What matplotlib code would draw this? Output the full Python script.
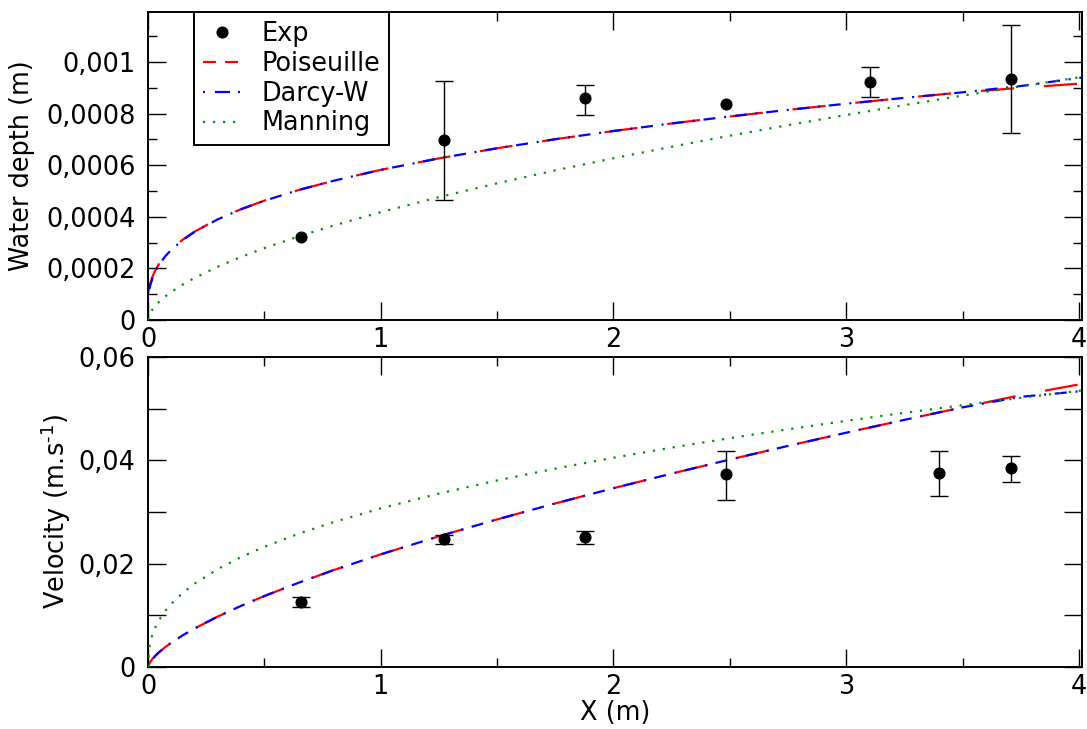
import matplotlib
matplotlib.use("Agg")
import matplotlib.pyplot as plt
from matplotlib.lines import Line2D
from matplotlib.ticker import FixedLocator, MultipleLocator

# ---------------- data ----------------
x_curve = [0, 0.005, 0.01, 0.02, 0.035, 0.05, 0.075, 0.1, 0.15, 0.2, 0.3, 0.4, 0.5,
           0.65, 0.8, 1.0, 1.25, 1.5, 1.75, 2.0, 2.25, 2.5, 2.75, 3.0, 3.25, 3.5,
           3.75, 4.013]

h_poiseuille = [0.000100, 0.0001256, 0.0001436, 0.0001700, 0.0001989, 0.0002211,
                0.0002504, 0.0002741, 0.0003121, 0.0003425, 0.0003912, 0.0004298,
                0.0004626, 0.0005046, 0.0005403, 0.0005820, 0.0006266, 0.0006658,
                0.0007008, 0.0007326, 0.0007619, 0.0007891, 0.0008146, 0.0008385,
                0.0008611, 0.0008826, 0.0009000, 0.0009170]
h_darcy = [0.000080, 0.0001143, 0.0001352, 0.0001643, 0.0001946, 0.0002176,
           0.0002478, 0.0002720, 0.0003106, 0.0003414, 0.0003905, 0.0004293,
           0.0004622, 0.0005046, 0.0005403, 0.0005820, 0.0006266, 0.0006658,
           0.0007008, 0.0007326, 0.0007619, 0.0007891, 0.0008146, 0.0008385,
           0.0008611, 0.0008826, 0.0009070, 0.0009400]
h_manning = [0.0, 0.0000188, 0.0000283, 0.0000424, 0.0000588, 0.0000724, 0.0000919,
             0.0001087, 0.0001378, 0.0001630, 0.0002067, 0.0002446, 0.0002787,
             0.0003249, 0.0003668, 0.0004180, 0.0004763, 0.0005299, 0.0005799,
             0.0006270, 0.0006717, 0.0007145, 0.0007555, 0.0007948, 0.0008329,
             0.0008699, 0.0009057, 0.0009423]

v_poiseuille = [0.0, 0.000637, 0.001012, 0.001607, 0.002333, 0.002959, 0.003876,
                0.004696, 0.006154, 0.007456, 0.009769, 0.011835, 0.013734,
                0.016359, 0.018787, 0.021800, 0.025297, 0.028567, 0.031658,
                0.034605, 0.037433, 0.040156, 0.042793, 0.045346, 0.047834,
                0.050253, 0.052623, 0.054800]
v_darcy = [0.0, 0.000637, 0.001012, 0.001607, 0.002333, 0.002959, 0.003876,
           0.004696, 0.006154, 0.007456, 0.009769, 0.011835, 0.013734,
           0.016359, 0.018787, 0.021800, 0.025297, 0.028567, 0.031658,
           0.034605, 0.037433, 0.040156, 0.042793, 0.045346, 0.047834,
           0.050253, 0.052300, 0.053400]
v_manning = [0.0, 0.003688, 0.004866, 0.006420, 0.008031, 0.009262, 0.010896,
             0.012222, 0.014374, 0.016127, 0.018966, 0.021278, 0.023268,
             0.025840, 0.028078, 0.030700, 0.033567, 0.036106, 0.038400,
             0.040509, 0.042464, 0.044291, 0.046010, 0.047640, 0.049191,
             0.050673, 0.052095, 0.053525]

x_exp_h = [0.657, 1.27, 1.876, 2.485, 3.10, 3.71]
h_exp = [0.000322, 0.000698, 0.000860, 0.000837, 0.000922, 0.000934]
h_err_lo = [0.000322, 0.000465, 0.000795, 0.000837, 0.000864, 0.000725]
h_err_hi = [0.000322, 0.000926, 0.000911, 0.000837, 0.000981, 0.001143]

x_exp_v = [0.657, 1.27, 1.876, 2.485, 3.40, 3.71]
v_exp = [0.0125, 0.0248, 0.0252, 0.0373, 0.0375, 0.0385]
v_err_lo = [0.01154, 0.0238, 0.0238, 0.0323, 0.0331, 0.0358]
v_err_hi = [0.01346, 0.0256, 0.0263, 0.0419, 0.0419, 0.0408]

x_ticks = [0, 1, 2, 3, 4]
x_ticklabels = ["0", "1", "2", "3", "4"]
h_ticks = [0, 0.0002, 0.0004, 0.0006, 0.0008, 0.001]
h_ticklabels = ["0", "0,0002", "0,0004", "0,0006", "0,0008", "0,001"]
v_ticks = [0, 0.01, 0.02, 0.03, 0.04, 0.05, 0.06]
v_ticklabels = ["0", "", "0,02", "", "0,04", "", "0,06"]

labels = ["Exp", "Poiseuille", "Darcy-W", "Manning"]

# ---------------- figure ----------------
FS = 18.4
plt.rcParams["font.family"] = ["DejaVu Sans"]
plt.rcParams["font.size"] = FS

fig = plt.figure(figsize=(10.87, 7.29), dpi=100)
W, H = 1087.0, 729.0
L, R = 148 / W, 1082 / W
ax1 = fig.add_axes([L, 1 - 320 / H, R - L, (320 - 12) / H])
ax2 = fig.add_axes([L, 1 - 667 / H, R - L, (667 - 357) / H])

LW = 1.6
red, blue, green = "#ff0000", "#0000ff", "#009400"
# line styles in the plot area (units of line width)
RED_LS = (0, (14.9, 13.5))
BLUE_LS = (9.45, (5.4, 3.94, 0.9, 3.94))
GREEN_LS = (0, (1.0, 3.5))
# line styles of the legend samples
RED_LEG = (0, (5.85, 4.05))
BLUE_LEG = (0, (0.9, 4.5, 6.75, 3.6))


def draw(ax, yp, yd, ym, xe, ye, lo, hi):
    ax.plot(x_curve, yp, color=red, lw=LW, ls=RED_LS, zorder=2)
    ax.plot(x_curve, yd, color=blue, lw=LW, ls=BLUE_LS, zorder=3)
    ax.plot(x_curve, ym, color=green, lw=LW, ls=GREEN_LS, zorder=4)
    sel = [i for i in range(len(xe)) if hi[i] > lo[i]]
    ax.errorbar([xe[i] for i in sel], [ye[i] for i in sel],
                yerr=[[ye[i] - lo[i] for i in sel], [hi[i] - ye[i] for i in sel]],
                fmt="none", ecolor="black", elinewidth=1.0, capsize=6.5,
                capthick=1.0, zorder=5)
    ax.plot(xe, ye, "o", color="black", ms=7.7, zorder=6)


draw(ax1, h_poiseuille, h_darcy, h_manning, x_exp_h, h_exp, h_err_lo, h_err_hi)
draw(ax2, v_poiseuille, v_darcy, v_manning, x_exp_v, v_exp, v_err_lo, v_err_hi)

for ax in (ax1, ax2):
    ax.set_xlim(0, 4.013)
    ax.xaxis.set_major_locator(FixedLocator(x_ticks))
    ax.set_xticklabels(x_ticklabels)
    ax.xaxis.set_minor_locator(MultipleLocator(0.5))
    ax.tick_params(which="both", direction="in", top=True, right=True,
                   width=1.0, colors="black", labelsize=FS)
    ax.tick_params(which="major", length=13)
    ax.tick_params(which="minor", length=6.5)
    ax.tick_params(axis="y", pad=9)
    ax.tick_params(axis="x", pad=5)
    for s in ax.spines.values():
        s.set_linewidth(1.4)

ax1.set_ylim(0, 0.001194)
ax1.yaxis.set_major_locator(FixedLocator(h_ticks))
ax1.set_yticklabels(h_ticklabels)
ax1.yaxis.set_minor_locator(MultipleLocator(0.0001))
ax1.set_ylabel("Water depth (m)", fontsize=FS, labelpad=8)

ax2.set_ylim(0, 0.06)
ax2.yaxis.set_major_locator(FixedLocator(v_ticks))
ax2.set_yticklabels(v_ticklabels)
ax2.set_ylabel("Velocity (m.s$^{\u2010 1}$)", fontsize=FS, labelpad=4)
ax2.set_xlabel("X (m)", fontsize=FS, labelpad=0)

handles = [
    Line2D([], [], ls="none", marker="o", color="black", ms=7.7),
    Line2D([], [], color=red, lw=LW, ls=RED_LEG),
    Line2D([], [], color=blue, lw=LW, ls=BLUE_LEG),
    Line2D([], [], color=green, lw=LW, ls=GREEN_LS),
]
leg = ax1.legend(handles, labels, loc="upper left", bbox_to_anchor=(0.049, 1.0),
                 borderaxespad=0, fancybox=False, framealpha=1, edgecolor="black",
                 fontsize=FS, handlelength=1.5, handletextpad=0.8,
                 labelspacing=0.15, borderpad=0.35)
leg.get_frame().set_linewidth(1.4)

fig.savefig("out.png", dpi=100)
